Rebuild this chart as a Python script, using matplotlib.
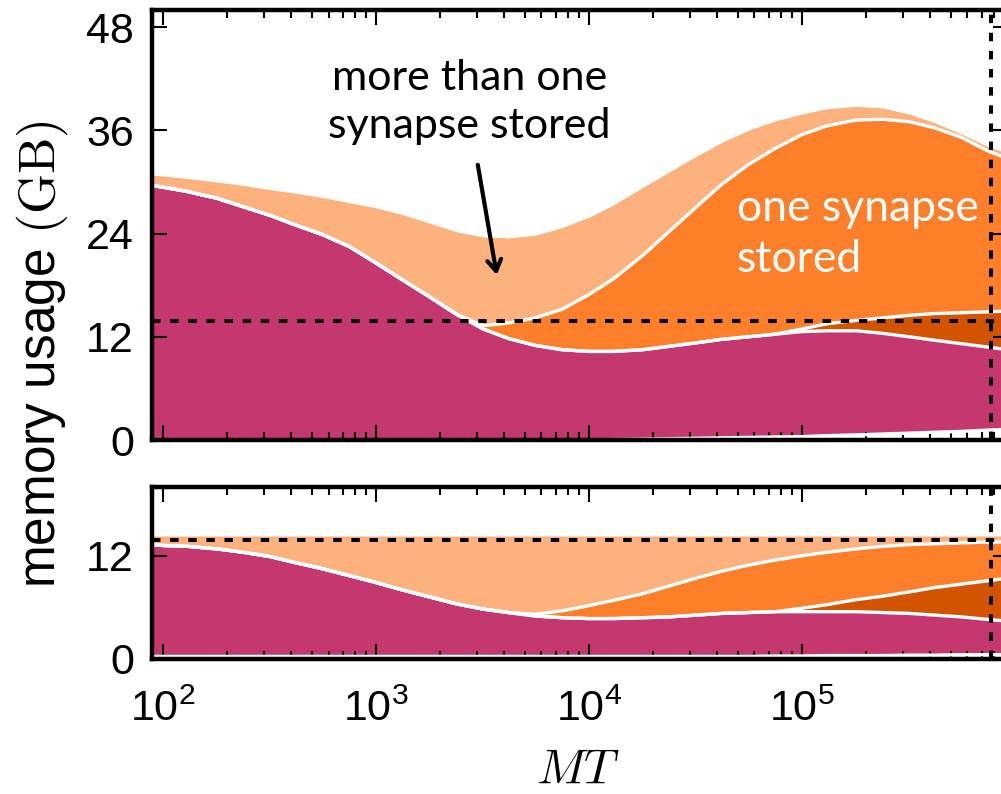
import numpy as np
import matplotlib
matplotlib.use("Agg")
import matplotlib.pyplot as plt
from matplotlib.ticker import FixedLocator, LogLocator, NullFormatter, FuncFormatter

# ---------------------------------------------------------------- data
MT = [89, 100, 130, 180, 240, 320, 420, 560, 750, 1000, 1300, 1800, 2400,
      3200, 4200, 5600, 7500, 10000, 13000, 18000, 24000, 32000, 42000,
      56000, 75000, 100000, 130000, 180000, 240000, 320000, 420000, 560000,
      750000, 930000]

# upper panel: cumulative layer tops (GB)
top_white = [0, 0, 0, 0, 0, 0, 0, 0, 0, 0, 0, 0, 0, 0, 0, 0, 0, 0,
             0.05, 0.1, 0.15, 0.2, 0.25, 0.3, 0.35, 0.4, 0.5, 0.6, 0.7, 0.8,
             0.9, 1.0, 1.15, 1.25]
top_magenta = [29.6, 29.4, 28.9, 28.1, 27.1, 26.1, 25.0, 23.9, 22.5, 20.6,
               18.8, 16.6, 14.6, 12.9, 11.8, 11.0, 10.5, 10.3, 10.3, 10.5,
               10.9, 11.3, 11.7, 12.0, 12.3, 12.6, 12.7, 12.7, 12.4, 12.0,
               11.6, 11.2, 10.8, 10.5]
top_dark = [29.6, 29.4, 28.9, 28.1, 27.1, 26.1, 25.0, 23.9, 22.5, 20.6,
            18.8, 16.6, 14.6, 12.9, 11.8, 11.0, 10.5, 10.3, 10.3, 10.5,
            10.9, 11.3, 11.7, 12.0, 12.3, 12.9, 13.5, 13.9, 14.2, 14.5,
            14.7, 14.8, 14.9, 15.0]
top_medium = [29.6, 29.4, 28.9, 28.1, 27.1, 26.1, 25.0, 23.9, 22.5, 20.6,
              18.8, 16.6, 14.6, 13.3, 13.6, 14.2, 15.2, 16.9, 18.7, 21.5,
              24.3, 27.1, 29.7, 32.0, 33.9, 35.5, 36.5, 37.2, 37.3, 37.0,
              36.3, 35.2, 33.6, 32.7]
top_light = [30.8, 30.7, 30.4, 30.0, 29.6, 29.1, 28.7, 28.2, 27.6, 27.0,
             26.3, 25.2, 24.2, 23.6, 23.5, 23.8, 24.7, 25.9, 27.3, 29.4,
             31.2, 33.0, 34.6, 36.0, 37.1, 37.9, 38.5, 38.8, 38.6, 37.9,
             36.9, 35.6, 34.1, 33.3]

# lower panel: cumulative layer tops (GB)
bot_white = [0.3, 0.3, 0.3, 0.3, 0.3, 0.3, 0.3, 0.3, 0.3, 0.3, 0.3, 0.3,
             0.3, 0.3, 0.3, 0.3, 0.3, 0.3, 0.3, 0.3, 0.3, 0.3, 0.3, 0.3,
             0.35, 0.35, 0.4, 0.4, 0.4, 0.45, 0.45, 0.5, 0.5, 0.5]
bot_magenta = [13.3, 13.2, 13.1, 12.8, 12.4, 11.9, 11.2, 10.5, 9.7, 8.9,
               8.1, 7.2, 6.4, 5.8, 5.4, 5.0, 4.8, 4.7, 4.7, 4.8, 4.9, 5.1,
               5.3, 5.4, 5.5, 5.5, 5.5, 5.5, 5.4, 5.3, 5.1, 4.9, 4.6, 4.4]
bot_dark = [13.3, 13.2, 13.1, 12.8, 12.4, 11.9, 11.2, 10.5, 9.7, 8.9,
            8.1, 7.2, 6.4, 5.8, 5.4, 5.0, 4.8, 4.7, 4.7, 4.8, 4.9, 5.1,
            5.3, 5.4, 5.5, 5.9, 6.3, 6.9, 7.3, 7.8, 8.3, 8.7, 9.1, 9.4]
bot_medium = [13.3, 13.2, 13.1, 12.8, 12.4, 11.9, 11.2, 10.5, 9.7, 8.9,
              8.1, 7.2, 6.4, 5.8, 5.4, 5.2, 5.6, 6.2, 6.8, 7.6, 8.5, 9.4,
              10.2, 10.9, 11.5, 12.0, 12.4, 12.8, 13.1, 13.3, 13.4, 13.5,
              13.6, 13.6]
bot_light = [14.3, 14.3, 14.3, 14.3, 14.3, 14.3, 14.3, 14.3, 14.3, 14.3,
             14.3, 14.3, 14.3, 14.3, 14.3, 14.3, 14.3, 14.3, 14.3, 14.3,
             14.3, 14.3, 14.3, 14.3, 14.3, 14.3, 14.3, 14.3, 14.3, 14.3,
             14.3, 14.3, 14.3, 14.3]

memory_limit = 13.8       # GB, horizontal dashed line
mt_marker = 7.7e5         # vertical dashed line
top_yticks = [0, 12, 24, 36, 48]
bot_yticks = [0, 12]

# ---------------------------------------------------------------- style
MAGENTA = "#C4376F"
DARK = "#D35400"
MEDIUM = "#FD7F2A"
LIGHT = "#FDB27E"

plt.rcParams["mathtext.fontset"] = "cm"
plt.rcParams["font.family"] = ["Liberation Sans", "DejaVu Sans"]

W, H = 1001, 794
fig = plt.figure(figsize=(W / 100, H / 100), dpi=100)
left, right = 152, 1008
ax_top = fig.add_axes([left / W, (H - 440) / H, (right - left) / W, 430 / H])
ax_bot = fig.add_axes([left / W, (H - 659) / H, (right - left) / W, 172 / H])


def draw_layers(ax, white, magenta, dark, medium, light):
    ax.fill_between(MT, 0, white, color="white", lw=0)
    ax.fill_between(MT, white, magenta, color=MAGENTA, lw=0)
    ax.fill_between(MT, magenta, dark, color=DARK, lw=0)
    ax.fill_between(MT, dark, medium, color=MEDIUM, lw=0)
    ax.fill_between(MT, medium, light, color=LIGHT, lw=0)
    for edge in (white, magenta, dark, medium):
        ax.plot(MT, edge, color="white", lw=2.4, solid_capstyle="butt",
                solid_joinstyle="round")


def style_axes(ax, yticks, ylim):
    ax.set_xscale("log")
    ax.set_xlim(89, 930000)
    ax.set_ylim(*ylim)
    ax.axhline(memory_limit, color="black", lw=2.9, dashes=(2.1, 2.4))
    ax.axvline(mt_marker, color="black", lw=2.9, dashes=(2.1, 2.4))
    ax.xaxis.set_major_locator(LogLocator(base=10, numticks=12))
    ax.xaxis.set_minor_locator(LogLocator(base=10, subs=range(2, 10), numticks=12))
    ax.xaxis.set_minor_formatter(NullFormatter())
    ax.yaxis.set_major_locator(FixedLocator(yticks))
    ax.tick_params(which="both", direction="in", top=True, right=True,
                   width=1.5, labelsize=31, color="black")
    ax.tick_params(which="major", length=11)
    ax.tick_params(which="minor", length=5.5)
    ax.tick_params(axis="y", pad=13)
    ax.tick_params(axis="x", pad=22)
    for sp in ax.spines.values():
        sp.set_linewidth(3.2)
        sp.set_zorder(5)


draw_layers(ax_top, top_white, top_magenta, top_dark, top_medium, top_light)
draw_layers(ax_bot, bot_white, bot_magenta, bot_dark, bot_medium, bot_light)
style_axes(ax_top, top_yticks, (0, 50))
style_axes(ax_bot, bot_yticks, (0, 20))
ax_top.tick_params(labelbottom=False)
ax_bot.xaxis.set_major_formatter(
    FuncFormatter(lambda v, p: r"$\mathregular{10^{%d}}$" % round(np.log10(v))))

# annotations
ax_top.text(2760, 39.3, "more than one\nsynapse stored", fontsize=31,
            family=["Lato", "DejaVu Sans"], ha="center", va="center",
            linespacing=1.3, color="black")
ax_top.annotate("", xy=(3700, 19.2), xytext=(3013, 32.0),
                arrowprops=dict(arrowstyle="->,head_length=0.8,head_width=0.5",
                                lw=3, color="black", shrinkA=0, shrinkB=0))
ax_top.text(49500, 24.0, "one synapse\nstored", fontsize=32,
            family=["Lato", "DejaVu Sans"], ha="left", va="center",
            linespacing=1.3, color="white")

fig.text(42 / W, (H - 354) / H, r"memory usage $\mathrm{(GB)}$", fontsize=37,
         rotation=90, ha="center", va="center")
fig.text(578 / W, (H - 770) / H, r"$MT$", fontsize=35, ha="center", va="center")

fig.savefig("out.png", dpi=100)
